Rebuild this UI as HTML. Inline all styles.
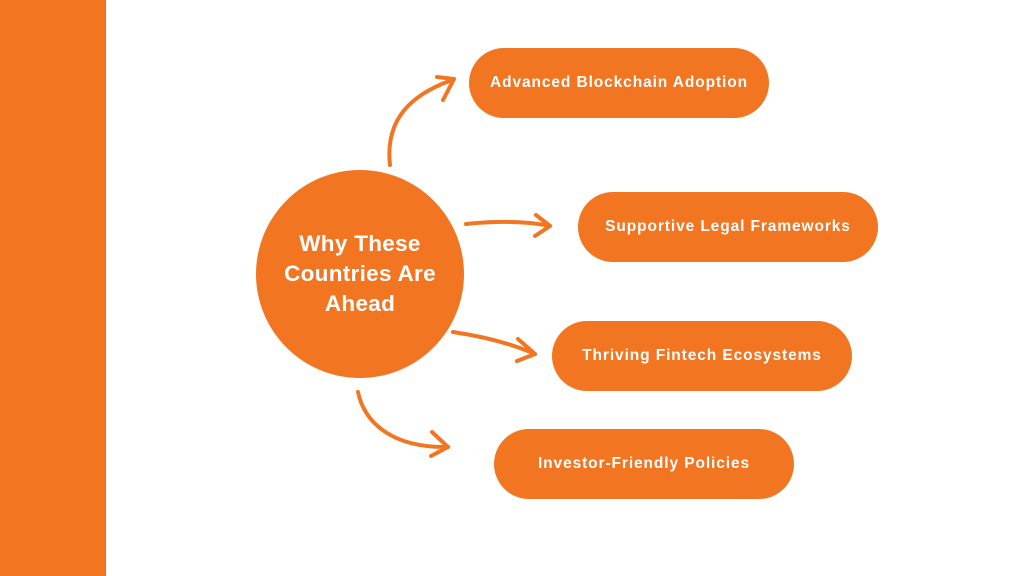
<!DOCTYPE html>
<html><head><style>
body{margin:0;width:1024px;height:576px;background:#fff;position:relative;overflow:hidden;font-family:"Liberation Sans",sans-serif}
.bar{position:absolute;left:0;top:0;width:106px;height:576px;background:#F27521}
.pill{position:absolute;width:300px;height:70px;border-radius:35px;background:#F27521;color:#fff;font-weight:bold;font-size:15.5px;display:flex;align-items:center;justify-content:center;letter-spacing:0.9px}
.circ{position:absolute;left:256px;top:170px;width:208px;height:208px;border-radius:50%;background:#F27521;color:#fff;font-weight:bold;font-size:22.5px;line-height:30px;display:flex;align-items:center;justify-content:center;text-align:center;letter-spacing:0.3px}
</style></head><body>
<div class="bar"></div>
<div class="circ">Why These<br>Countries Are<br>Ahead</div>
<div class="pill" style="left:469px;top:48px">Advanced Blockchain Adoption</div>
<div class="pill" style="left:578px;top:192px">Supportive Legal Frameworks</div>
<div class="pill" style="left:552px;top:321px">Thriving Fintech Ecosystems</div>
<div class="pill" style="left:494px;top:429px">Investor-Friendly Policies</div>
<svg width="1024" height="576" style="position:absolute;left:0;top:0" fill="none" stroke="#F27521" stroke-width="4" stroke-linecap="round" stroke-linejoin="round">
<path d="M390 165 C385 120 410 95 452 80"/><path d="M437 77 L454 79 L443 100"/>
<path d="M466 224 C495 221 525 221 550 226"/><path d="M536 215 L550 226 L535 236"/>
<path d="M453 332 C480 336 510 343 535 354"/><path d="M518 339 L535 354 L517 361"/>
<path d="M358 392 C365 425 395 448 448 447"/><path d="M432 432 L448 447 L431 456"/>
</svg>
</body></html>
